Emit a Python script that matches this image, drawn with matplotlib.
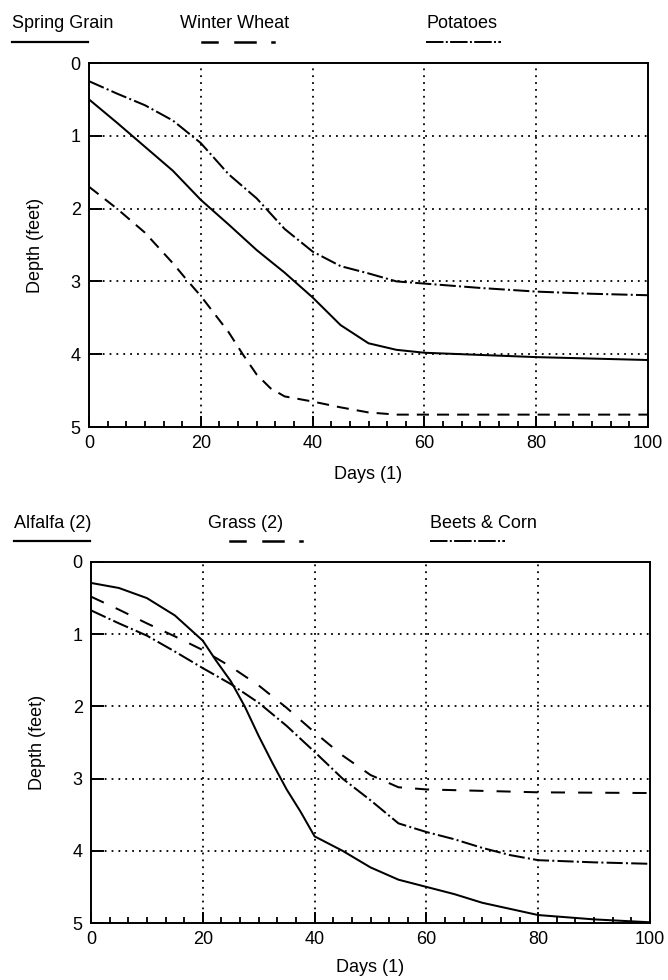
import matplotlib
matplotlib.use('Agg')
import matplotlib.pyplot as plt
from matplotlib.lines import Line2D
from matplotlib.ticker import MultipleLocator

plt.rcParams['font.family'] = ['Liberation Sans', 'DejaVu Sans']

# ---------------- data ----------------
# Top panel
spring_days = [0, 5, 10, 15, 20, 25, 30, 35, 40, 45, 50, 55, 60, 70, 80, 90, 100]
spring_depth = [0.5, 0.82, 1.15, 1.48, 1.88, 2.22, 2.57, 2.88, 3.22, 3.6, 3.85, 3.94, 3.98, 4.01, 4.04, 4.06, 4.08]

wheat_days = [0, 5, 10, 15, 17.5, 20, 22.5, 25, 27.5, 30, 32.5, 35, 40, 45, 50, 55, 60, 80, 100]
wheat_depth = [1.7, 2.0, 2.33, 2.75, 2.98, 3.2, 3.45, 3.7, 4.0, 4.28, 4.47, 4.58, 4.65, 4.73, 4.8, 4.83, 4.83, 4.83, 4.83]

potato_days = [0, 5, 10, 15, 20, 25, 30, 35, 40, 45, 50, 55, 60, 70, 80, 90, 100]
potato_depth = [0.25, 0.42, 0.58, 0.79, 1.1, 1.53, 1.86, 2.28, 2.59, 2.79, 2.89, 3.0, 3.03, 3.09, 3.14, 3.17, 3.19]

# Bottom panel
alfalfa_days = [0, 5, 10, 15, 20, 22.5, 25, 27.5, 30, 32.5, 35, 37.5, 40, 45, 50, 55, 60, 65, 70, 80, 90, 100]
alfalfa_depth = [0.29, 0.36, 0.5, 0.74, 1.09, 1.38, 1.65, 2.0, 2.41, 2.79, 3.15, 3.46, 3.8, 4.0, 4.23, 4.4, 4.5, 4.6, 4.72, 4.89, 4.95, 4.99]

grass_days = [0, 5, 10, 15, 20, 25, 30, 35, 40, 45, 50, 55, 60, 70, 80, 100]
grass_depth = [0.48, 0.66, 0.85, 1.03, 1.22, 1.45, 1.71, 2.02, 2.36, 2.68, 2.95, 3.12, 3.15, 3.17, 3.19, 3.2]

beets_days = [0, 5, 10, 15, 20, 25, 30, 35, 40, 45, 50, 55, 60, 65, 70, 75, 80, 90, 100]
beets_depth = [0.67, 0.85, 1.02, 1.24, 1.47, 1.69, 1.95, 2.27, 2.63, 3.0, 3.3, 3.62, 3.74, 3.84, 3.96, 4.06, 4.13, 4.16, 4.18]

x_ticks = [0, 20, 40, 60, 80, 100]
y_ticks = [0, 1, 2, 3, 4, 5]
x_label = "Days (1)"
y_label = "Depth (feet)"

top_labels = ["Spring Grain", "Winter Wheat", "Potatoes"]
bottom_labels = ["Alfalfa (2)", "Grass (2)", "Beets & Corn"]

# ---------------- style ----------------
W, H = 668, 980
FS = 13
SOLID = '-'
DASH_W = (0, (6, 4))
DASH_G = (0, (7, 6.5))
DASHDOT = (0, (8, 1.6, 1.0, 1.6))
LW = 1.45

fig = plt.figure(figsize=(W / 100, H / 100), dpi=100)


def fx(px):
    return px / W


def fy(py):
    return 1 - py / H


ax1 = fig.add_axes([fx(89), fy(427), (648 - 89) / W, (427 - 63) / H])
ax2 = fig.add_axes([fx(91), fy(923), (650 - 91) / W, (923 - 562) / H])


def style(ax, xlabelpad):
    ax.set_xlim(0, 100)
    ax.set_ylim(5, 0)
    ax.set_xticks(x_ticks)
    ax.set_yticks(y_ticks)
    ax.xaxis.set_minor_locator(MultipleLocator(20 / 6))
    ax.tick_params(axis='x', which='major', direction='in', length=8, width=1.4,
                   labelsize=FS, pad=6, top=False)
    ax.tick_params(axis='x', which='minor', direction='in', length=4.5, width=1.3, top=False)
    ax.tick_params(axis='y', which='major', direction='in', length=9, width=1.4,
                   labelsize=FS, pad=6, right=False)
    for s in ax.spines.values():
        s.set_linewidth(1.4)
    for v in [20, 40, 60, 80]:
        ax.axvline(v, color='black', lw=1.3, ls=(0, (1, 2.8)), zorder=1)
    for v in [1, 2, 3, 4]:
        ax.axhline(v, color='black', lw=1.3, ls=(0, (1, 2.8)), zorder=1)
    ax.set_xlabel(x_label, fontsize=FS, labelpad=xlabelpad)
    ax.set_ylabel(y_label, fontsize=FS, labelpad=19)


style(ax1, 10)
style(ax2, 8)

ax1.plot(spring_days, spring_depth, color='black', lw=LW, ls=SOLID, zorder=3)
ax1.plot(wheat_days, wheat_depth, color='black', lw=LW, ls=DASH_W, zorder=3)
ax1.plot(potato_days, potato_depth, color='black', lw=LW, ls=DASHDOT, zorder=3)

ax2.plot(alfalfa_days, alfalfa_depth, color='black', lw=LW, ls=SOLID, zorder=3)
ax2.plot(grass_days, grass_depth, color='black', lw=LW, ls=DASH_G, zorder=3)
ax2.plot(beets_days, beets_depth, color='black', lw=LW, ls=DASHDOT, zorder=3)

# ---------------- legends above each panel ----------------
def legend_row(labels, x_lefts, base_y, line_y):
    for lab, x0 in zip(labels, x_lefts):
        fig.text(fx(x0), fy(base_y), lab, fontsize=FS, ha='left', va='baseline')
    # solid sample
    fig.add_artist(Line2D([fx(x_lefts[0]), fx(x_lefts[0] + 76)], [fy(line_y)] * 2,
                          color='black', lw=1.6))
    # dashed sample: dash, dash, dot
    x1 = x_lefts[1]
    for a, b in [(22, 37), (55, 75), (92, 94)]:
        fig.add_artist(Line2D([fx(x1 + a), fx(x1 + b)], [fy(line_y)] * 2,
                              color='black', lw=1.8))
    # dash-dot sample
    fig.add_artist(Line2D([fx(x_lefts[2]), fx(x_lefts[2] + 75)], [fy(line_y)] * 2,
                          color='black', lw=1.4, ls=(0, (9, 1.2, 1.0, 1.2))))


legend_row(top_labels, [12, 180, 426], 28, 42)
legend_row(bottom_labels, [14, 208, 430], 528, 541)

fig.savefig('out.png', dpi=100)
